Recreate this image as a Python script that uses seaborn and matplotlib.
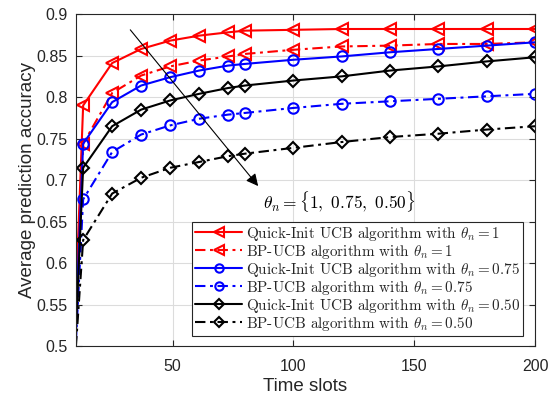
import numpy as np
import pandas as pd
import matplotlib
matplotlib.use("Agg")
import matplotlib.pyplot as plt
import seaborn as sns
from matplotlib.font_manager import FontProperties
from matplotlib.lines import Line2D

# Time slots at which accuracy was recorded
time_slots = [10, 13, 25, 37, 49, 61, 73, 80, 100, 120, 140, 160, 180, 200]

# Average prediction accuracy per algorithm / theta_n
qi_ucb_1 = [0.56, 0.790, 0.841, 0.858, 0.868, 0.874, 0.878, 0.880, 0.881, 0.882, 0.882, 0.882, 0.882, 0.882]
bp_ucb_1 = [0.55, 0.744, 0.805, 0.826, 0.837, 0.844, 0.849, 0.852, 0.857, 0.861, 0.862, 0.864, 0.864, 0.866]
qi_ucb_075 = [0.53, 0.744, 0.794, 0.814, 0.824, 0.832, 0.838, 0.840, 0.845, 0.849, 0.854, 0.858, 0.862, 0.866]
bp_ucb_075 = [0.505, 0.677, 0.734, 0.755, 0.766, 0.774, 0.779, 0.781, 0.787, 0.792, 0.795, 0.798, 0.801, 0.804]
qi_ucb_050 = [0.52, 0.715, 0.765, 0.785, 0.796, 0.804, 0.811, 0.814, 0.820, 0.825, 0.832, 0.837, 0.843, 0.848]
bp_ucb_050 = [0.50, 0.628, 0.684, 0.703, 0.715, 0.722, 0.729, 0.732, 0.739, 0.746, 0.752, 0.756, 0.761, 0.765]

series_labels = [
    r"Quick-Init UCB algorithm with $\theta_n=1$",
    r"BP-UCB algorithm with $\theta_n=1$",
    r"Quick-Init UCB algorithm with $\theta_n=0.75$",
    r"BP-UCB algorithm with $\theta_n=0.75$",
    r"Quick-Init UCB algorithm with $\theta_n=0.50$",
    r"BP-UCB algorithm with $\theta_n=0.50$",
]
series_values = [qi_ucb_1, bp_ucb_1, qi_ucb_075, bp_ucb_075, qi_ucb_050, bp_ucb_050]
series_colors = ["#ff0000", "#ff0000", "#0000ff", "#0000ff", "#000000", "#000000"]
series_markers = ["<", "<", "o", "o", "D", "D"]
series_sizes = [8.5, 8.5, 7.5, 7.5, 6.5, 6.5]
dashdot = (0, (5, 2.2, 1.4, 2.2))
series_styles = ["-", dashdot, "-", dashdot, "-", dashdot]

sns.set_theme(style="whitegrid")
plt.rcParams["font.family"] = ["Liberation Sans", "DejaVu Sans"]
plt.rcParams["mathtext.fontset"] = "cm"

fig = plt.figure(figsize=(5.54, 4.01), dpi=100)
ax = fig.add_axes([0.137, 0.136, 0.829, 0.829])

handles = []
for label, vals, col, mk, ms, ls in zip(series_labels, series_values, series_colors,
                                        series_markers, series_sizes, series_styles):
    sns.lineplot(x=time_slots, y=vals, ax=ax, color=col, linestyle=ls, linewidth=1.5,
                 marker=mk, markersize=ms, markerfacecolor="none", markeredgecolor=col,
                 markeredgewidth=1.5, markevery=list(range(1, len(time_slots))),
                 errorbar=None, sort=False, legend=False)
    handles.append(Line2D([], [], color=col, linestyle=ls, linewidth=1.5, marker=mk,
                          markersize=ms * 0.8, markerfacecolor="none",
                          markeredgecolor=col, markeredgewidth=1.5, label=label))

ax.set_xlim(10, 200)
ax.set_ylim(0.5, 0.9)
ax.set_xticks([50, 100, 150, 200])
ax.set_yticks(np.arange(0.5, 0.9001, 0.05))
ax.set_yticklabels(["0.5", "0.55", "0.6", "0.65", "0.7", "0.75", "0.8", "0.85", "0.9"])

ax.grid(True, color="#dcdcdc", linewidth=0.8)
for side in ["top", "right", "bottom", "left"]:
    ax.spines[side].set_visible(True)
    ax.spines[side].set_color("#262626")
    ax.spines[side].set_linewidth(0.8)
ax.tick_params(axis="both", which="both", direction="in", length=4, width=0.8,
               colors="#262626", labelsize=11.5, top=True, right=True,
               bottom=True, left=True)
ax.tick_params(axis="x", pad=9)
ax.tick_params(axis="y", pad=6)

ax.set_xlabel("Time slots", fontsize=13.5, color="#262626", labelpad=3)
ax.set_ylabel("Average prediction accuracy", fontsize=13.5, color="#262626", labelpad=0)

# Arrow showing decreasing theta_n
ax.annotate("", xy=(85.4, 0.693), xytext=(32.5, 0.881),
            arrowprops=dict(arrowstyle="-|>", color="black", lw=0.8,
                            mutation_scale=18, shrinkA=0, shrinkB=0))
ax.text(87.5, 0.674, r"$\theta_n=\{1,\ 0.75,\ 0.50\}$", fontsize=12.5, color="black",
        ha="left", va="center")

legend_font = FontProperties(family="cmr10", size=10.9)
leg = ax.legend(handles=handles, loc="lower right", bbox_to_anchor=(0.974, 0.032),
                prop=legend_font, numpoints=1,
                frameon=True, fancybox=False, framealpha=1, edgecolor="#262626",
                handlelength=3.1, handletextpad=0.25, borderpad=0.2,
                labelspacing=0.0, borderaxespad=0)
leg.get_frame().set_linewidth(0.8)

fig.savefig("out.png", dpi=100)
